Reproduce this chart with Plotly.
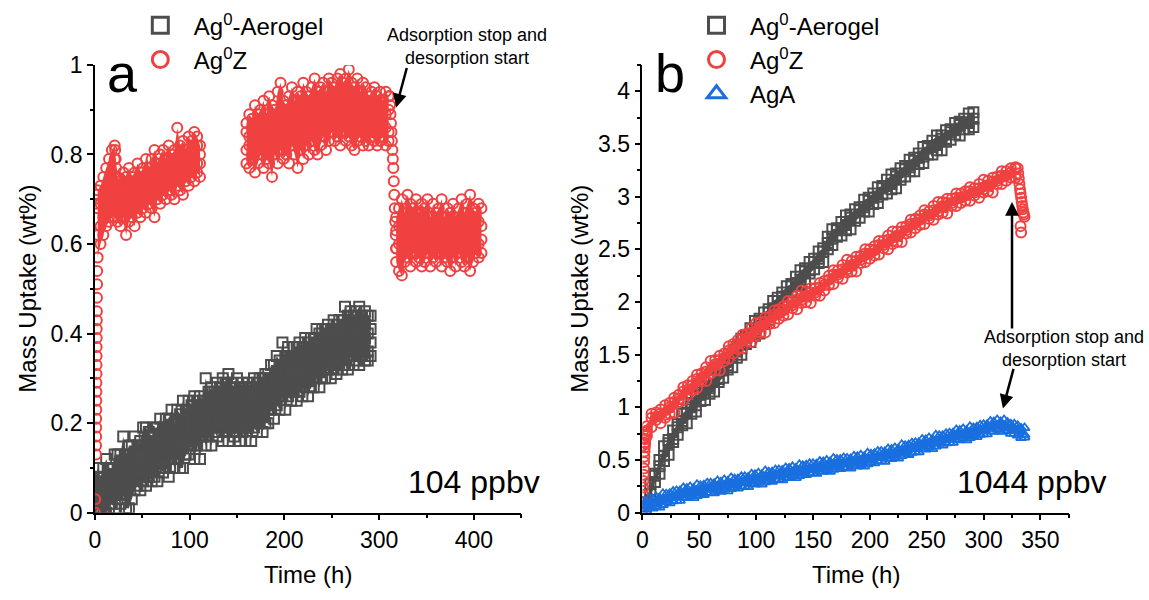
import plotly.graph_objects as go

FONT = "Liberation Sans, Arial, sans-serif"
GRAY = "#4d4d4d"
RED = "#f04141"
BLUE = "#1a6fdf"

# ---------------- Panel a: 104 ppbv ----------------
# Ag0-Aerogel, sampled every 3 h: four readings per time (upper edge, two inner, lower edge)
AERO_A_T = [0, 3, 6, 9, 12, 15, 18, 21, 24, 27, 30, 33, 36, 39, 42, 45, 48, 51, 54, 57,
            60, 63, 66, 69, 72, 75, 78, 81, 84, 87, 90, 93, 96, 99, 102, 105, 108, 111, 114, 117,
            120, 123, 126, 129, 132, 135, 138, 141, 144, 147, 150, 153, 156, 159, 162, 165, 168, 171, 174, 177,
            180, 183, 186, 189, 192, 195, 198, 201, 204, 207, 210, 213, 216, 219, 222, 225, 228, 231, 234, 237,
            240, 243, 246, 249, 252, 255, 258, 261, 264, 267, 270, 273, 276, 279, 282, 285, 288, 291]
AERO_A_HI = [.07, .10, .08, .10, .12, .10, .10, .13, .13, .13, .17, .13, .15, .15, .17, .15, .16, .19, .19, .18,
             .17, .19, .19, .21, .19, .21, .21, .23, .20, .23, .22, .25, .23, .25, .24, .26, .25, .26, .25, .30,
             .27, .28, .27, .29, .28, .30, .29, .31, .29, .28, .30, .28, .29, .28, .29, .28, .30, .29, .30, .30,
             .31, .31, .33, .33, .35, .34, .38, .35, .37, .35, .37, .37, .38, .37, .39, .38, .39, .39, .41, .40,
             .41, .41, .42, .41, .43, .42, .43, .43, .46, .44, .45, .44, .45, .46, .44, .45, .44, .44]
AERO_A_MH = [.04, .04, .06, .06, .05, .08, .07, .08, .10, .09, .10, .12, .10, .12, .13, .12, .14, .15, .13, .15,
             .16, .14, .16, .17, .16, .18, .19, .17, .18, .20, .18, .20, .21, .20, .21, .22, .21, .23, .24, .22,
             .24, .25, .24, .25, .26, .25, .26, .27, .24, .25, .26, .24, .25, .27, .24, .25, .27, .25, .26, .28,
             .26, .28, .30, .29, .31, .32, .31, .33, .34, .31, .33, .35, .33, .34, .36, .34, .36, .37, .35, .37,
             .38, .37, .38, .39, .38, .39, .40, .38, .41, .42, .40, .41, .42, .40, .41, .42, .40, .41]
AERO_A_ML = [.01, .02, .01, .02, .04, .02, .05, .04, .06, .05, .07, .09, .06, .09, .08, .10, .09, .10, .12, .10,
             .12, .11, .13, .12, .13, .15, .13, .15, .14, .16, .14, .16, .18, .16, .18, .17, .19, .18, .19, .21,
             .19, .21, .21, .22, .20, .21, .23, .21, .22, .21, .22, .20, .21, .23, .21, .22, .22, .23, .22, .23,
             .25, .23, .26, .26, .28, .27, .28, .30, .28, .30, .29, .31, .29, .30, .33, .30, .32, .32, .33, .32,
             .34, .36, .33, .35, .35, .36, .35, .36, .38, .36, .38, .37, .38, .37, .37, .39, .36, .38]
AERO_A_LO = [.00, .01, .00, .01, .00, .01, .02, .01, .03, .02, .04, .01, .01, .03, .05, .06, .05, .07, .06, .08,
             .07, .08, .07, .10, .09, .10, .08, .12, .10, .12, .10, .10, .13, .13, .15, .12, .15, .12, .17, .15,
             .17, .15, .18, .17, .19, .16, .18, .16, .19, .17, .18, .16, .18, .16, .19, .16, .19, .18, .20, .18,
             .20, .20, .23, .21, .24, .23, .26, .23, .26, .25, .27, .25, .27, .26, .29, .26, .28, .28, .30, .28,
             .30, .30, .32, .30, .32, .31, .33, .32, .33, .32, .35, .33, .34, .33, .35, .34, .34, .35]

# Ag0Z, first adsorption period
AGZ_A1_T = [3, 6, 9, 12, 15, 18, 21, 24, 27, 30, 33, 36, 39, 42, 45, 48, 51, 54, 57, 60,
            63, 66, 69, 72, 75, 78, 81, 84, 87, 90, 93, 96, 99, 102, 105, 108, 111]
AGZ_A1_HI = [.72, .73, .75, .77, .79, .81, .82, .75, .74, .76, .75, .77, .75, .76, .78, .76, .77, .79, .77, .79,
             .81, .78, .80, .81, .79, .82, .80, .81, .86, .82, .83, .81, .84, .83, .85, .84, .82]
AGZ_A1_MH = [.68, .69, .70, .72, .74, .76, .79, .71, .72, .71, .73, .72, .74, .73, .72, .75, .74, .73, .76, .75,
             .76, .77, .76, .78, .77, .77, .79, .78, .79, .80, .78, .80, .79, .81, .80, .82, .80]
AGZ_A1_ML = [.62, .64, .66, .68, .69, .71, .75, .68, .67, .69, .68, .70, .69, .70, .71, .70, .71, .72, .71, .72,
             .73, .72, .74, .73, .75, .74, .75, .76, .75, .76, .77, .76, .77, .78, .77, .78, .78]
AGZ_A1_LO = [.57, .60, .62, .64, .65, .66, .66, .65, .64, .66, .62, .65, .66, .64, .67, .66, .68, .67, .69, .68,
             .66, .70, .69, .71, .70, .72, .71, .70, .73, .72, .71, .74, .73, .75, .74, .76, .75]

# Ag0Z, second adsorption period
AGZ_A2_T = [160, 163, 166, 169, 172, 175, 178, 181, 184, 187, 190, 193, 196, 199, 202, 205, 208, 211, 214, 217,
            220, 223, 226, 229, 232, 235, 238, 241, 244, 247, 250, 253, 256, 259, 262, 265, 268, 271, 274, 277,
            280, 283, 286, 289, 292, 295, 298, 301, 304, 307, 310]
AGZ_A2_HI = [.87, .89, .88, .91, .89, .90, .92, .89, .93, .91, .90, .94, .96, .92, .91, .93, .95, .92, .94, .93,
             .96, .94, .93, .95, .97, .94, .95, .96, .94, .97, .96, .95, .97, .98, .96, .97, .99, .96, .95, .97,
             .94, .96, .95, .93, .94, .95, .93, .94, .92, .94, .93]
AGZ_A2_MH = [.85, .84, .86, .85, .87, .86, .86, .88, .87, .86, .88, .87, .89, .88, .87, .89, .88, .90, .89, .90,
             .89, .91, .90, .89, .91, .90, .92, .91, .90, .92, .91, .93, .92, .91, .93, .92, .91, .92, .90, .91,
             .90, .89, .91, .90, .89, .90, .89, .91, .90, .89, .90]
AGZ_A2_ML = [.81, .82, .80, .82, .81, .83, .82, .81, .83, .84, .82, .84, .83, .85, .84, .83, .85, .84, .86, .85,
             .86, .85, .87, .86, .85, .87, .86, .88, .87, .86, .88, .87, .89, .88, .87, .88, .87, .86, .88, .87,
             .86, .87, .85, .86, .87, .85, .86, .85, .87, .86, .85]
AGZ_A2_LO = [.78, .77, .79, .76, .78, .80, .77, .79, .78, .75, .80, .78, .81, .79, .80, .78, .82, .80, .77, .81,
             .79, .82, .80, .83, .81, .80, .82, .84, .81, .83, .85, .83, .84, .82, .85, .83, .84, .82, .81, .83,
             .84, .82, .83, .82, .84, .83, .82, .83, .84, .82, .83]

# Ag0Z, desorption period
AGZ_A3_T = [318, 321, 324, 327, 330, 333, 336, 339, 342, 345, 348, 351, 354, 357, 360, 363, 366, 369, 372, 375,
            378, 381, 384, 387, 390, 393, 396, 399, 402, 405, 408]
AGZ_A3_HI = [.66, .68, .70, .67, .71, .69, .68, .70, .67, .69, .68, .70, .66, .69, .67, .68, .70, .66, .68, .67,
             .69, .66, .68, .70, .67, .69, .71, .68, .67, .69, .68]
AGZ_A3_MH = [.63, .64, .63, .65, .64, .66, .63, .65, .64, .63, .65, .64, .66, .64, .63, .65, .64, .63, .65, .64,
             .63, .65, .64, .66, .64, .63, .65, .64, .66, .65, .64]
AGZ_A3_ML = [.59, .60, .61, .60, .59, .61, .60, .62, .59, .61, .60, .59, .61, .60, .62, .59, .60, .61, .59, .60,
             .62, .60, .59, .61, .60, .62, .60, .61, .59, .60, .61]
AGZ_A3_LO = [.56, .54, .53, .56, .57, .55, .58, .56, .57, .55, .56, .58, .55, .57, .56, .58, .55, .57, .56, .54,
             .57, .55, .58, .56, .55, .57, .54, .56, .58, .57, .58]

# Ag0Z, single readings: start-up column, spike at ~22 h and the drop at ~315 h
AGZ_A_COL_T = [0.2, 0.4, 1.2, 1.3, 1.4, 1.5, 1.5, 1.6, 1.6, 1.7, 1.7, 1.8, 1.8, 1.9, 1.9, 2.0, 2.0, 2.1, 2.2, 2.3,
               2.4, 2.5, 1.5, 2.0, 21.5, 22.0, 22.5, 23.0, 23.5, 311, 311.5, 312, 312.5, 313, 313.5, 314, 314.5,
               315, 315.5, 316, 316.5, 317, 317.5, 318]
AGZ_A_COL_V = [0.00, 0.03, 0.13, 0.15, 0.17, 0.19, 0.21, 0.23, 0.25, 0.27, 0.29, 0.31, 0.33, 0.35, 0.37, 0.39,
               0.41, 0.43, 0.45, 0.48, 0.51, 0.54, 0.69, 0.71, 0.81, 0.79, 0.77, 0.75, 0.73, 0.93, 0.91, 0.89,
               0.87, 0.85, 0.83, 0.81, 0.79, 0.77, 0.74, 0.71, 0.68, 0.65, 0.62, 0.59]

# ---------------- Panel b: 1044 ppbv ----------------
AERO_B_T = [3, 7, 11, 15, 19, 23, 27, 31, 35, 39, 43, 47, 51, 55, 59, 63, 67, 71, 75, 79,
            83, 87, 91, 95, 99, 103, 107, 111, 115, 119, 123, 127, 131, 135, 139, 143, 147, 151, 155, 159,
            163, 167, 171, 175, 179, 183, 187, 191, 195, 199, 203, 207, 211, 215, 219, 223, 227, 231, 235, 239,
            243, 247, 251, 255, 259, 263, 267, 271, 275, 279, 283, 287, 291]
AERO_B_HI = [.10, .27, .37, .50, .63, .69, .78, .84, .94, .98, 1.04, 1.11, 1.14, 1.20, 1.27, 1.29, 1.35, 1.38, 1.47, 1.51,
             1.57, 1.65, 1.68, 1.75, 1.82, 1.84, 1.90, 1.93, 2.01, 2.04, 2.09, 2.15, 2.17, 2.24, 2.30, 2.32, 2.38, 2.41, 2.48, 2.51,
             2.62, 2.69, 2.70, 2.76, 2.82, 2.83, 2.88, 2.90, 2.97, 2.99, 3.03, 3.09, 3.10, 3.16, 3.21, 3.22, 3.27, 3.29, 3.35, 3.37,
             3.41, 3.47, 3.48, 3.53, 3.58, 3.58, 3.63, 3.64, 3.70, 3.71, 3.74, 3.79, 3.80]
AERO_B_MID = [.06, .18, .35, .44, .54, .66, .70, .81, .87, .95, 1.00, 1.02, 1.12, 1.14, 1.18, 1.26, 1.27, 1.35, 1.40, 1.48,
              1.53, 1.56, 1.66, 1.69, 1.73, 1.81, 1.82, 1.90, 1.94, 2.01, 2.05, 2.06, 2.15, 2.18, 2.21, 2.29, 2.30, 2.38, 2.41, 2.48,
              2.56, 2.60, 2.68, 2.70, 2.73, 2.80, 2.80, 2.87, 2.90, 2.96, 2.99, 3.00, 3.08, 3.10, 3.12, 3.19, 3.19, 3.26, 3.28, 3.34,
              3.37, 3.38, 3.46, 3.47, 3.49, 3.55, 3.55, 3.61, 3.63, 3.68, 3.70, 3.70, 3.74]
AERO_B_LO = [.00, .12, .29, .37, .49, .55, .67, .74, .83, .85, .94, .96, 1.06, 1.07, 1.13, 1.15, 1.24, 1.28, 1.36, 1.38,
             1.47, 1.50, 1.60, 1.62, 1.68, 1.70, 1.79, 1.83, 1.90, 1.91, 1.99, 2.00, 2.09, 2.11, 2.16, 2.18, 2.27, 2.31, 2.37, 2.38,
             2.50, 2.54, 2.62, 2.63, 2.68, 2.69, 2.77, 2.80, 2.86, 2.86, 2.93, 2.94, 3.02, 3.03, 3.07, 3.08, 3.16, 3.19, 3.24, 3.24,
             3.31, 3.32, 3.40, 3.40, 3.44, 3.44, 3.52, 3.54, 3.59, 3.58, 3.64, 3.64, 3.66]

AGZ_B_T = [4, 8, 12, 16, 20, 24, 28, 32, 36, 40, 44, 48, 52, 56, 60, 64, 68, 72, 76, 80,
           84, 88, 92, 96, 100, 104, 108, 112, 116, 120, 124, 128, 132, 136, 140, 144, 148, 152, 156, 160,
           164, 168, 172, 176, 180, 184, 188, 192, 196, 200, 204, 208, 212, 216, 220, 224, 228, 232, 236, 240,
           244, 248, 252, 256, 260, 264, 268, 272, 276, 280, 284, 288, 292, 296, 300, 304, 308, 312, 316, 320,
           324, 328]
AGZ_B_HI = [.82, .94, .95, .98, 1.02, 1.04, 1.09, 1.12, 1.19, 1.21, 1.25, 1.31, 1.32, 1.38, 1.44, 1.45, 1.49, 1.51, 1.58, 1.60,
            1.64, 1.69, 1.70, 1.75, 1.80, 1.81, 1.85, 1.86, 1.92, 1.93, 1.96, 2.01, 2.01, 2.06, 2.11, 2.10, 2.13, 2.13, 2.18, 2.20,
            2.25, 2.30, 2.30, 2.35, 2.40, 2.39, 2.43, 2.44, 2.50, 2.50, 2.53, 2.58, 2.58, 2.63, 2.67, 2.67, 2.71, 2.72, 2.78, 2.79,
            2.82, 2.87, 2.86, 2.91, 2.95, 2.95, 2.98, 2.98, 3.03, 3.03, 3.05, 3.09, 3.08, 3.12, 3.16, 3.15, 3.18, 3.19, 3.24, 3.24,
            3.27, 3.28]
AGZ_B_MID = [.78, .90, .91, .94, .93, 1.00, 1.05, 1.08, 1.15, 1.17, 1.21, 1.27, 1.28, 1.34, 1.35, 1.41, 1.45, 1.47, 1.54, 1.56,
             1.60, 1.65, 1.66, 1.71, 1.71, 1.77, 1.81, 1.82, 1.88, 1.89, 1.92, 1.97, 1.97, 2.02, 2.02, 2.06, 2.09, 2.09, 2.14, 2.16,
             2.21, 2.26, 2.26, 2.31, 2.31, 2.35, 2.39, 2.40, 2.46, 2.46, 2.49, 2.54, 2.54, 2.59, 2.58, 2.63, 2.67, 2.68, 2.74, 2.75,
             2.78, 2.83, 2.82, 2.87, 2.86, 2.91, 2.94, 2.94, 2.99, 2.99, 3.01, 3.05, 3.04, 3.08, 3.07, 3.11, 3.14, 3.15, 3.20, 3.20,
             3.23, 3.27]
AGZ_B_LO = [.73, .81, .88, .85, .90, .94, .95, 1.05, 1.07, 1.12, 1.16, 1.18, 1.25, 1.25, 1.32, 1.35, 1.35, 1.44, 1.46, 1.51,
            1.55, 1.56, 1.63, 1.62, 1.68, 1.71, 1.71, 1.79, 1.80, 1.84, 1.87, 1.88, 1.94, 1.93, 1.99, 2.00, 1.99, 2.06, 2.06, 2.11,
            2.16, 2.17, 2.23, 2.22, 2.28, 2.29, 2.29, 2.37, 2.38, 2.41, 2.44, 2.45, 2.51, 2.50, 2.55, 2.57, 2.57, 2.65, 2.66, 2.70,
            2.73, 2.74, 2.79, 2.78, 2.83, 2.85, 2.84, 2.91, 2.91, 2.94, 2.96, 2.96, 3.01, 2.99, 3.04, 3.05, 3.04, 3.12, 3.12, 3.15,
            3.18, 3.18]
# start-up column and the desorption drop after ~330 h
AGZ_B_COL_T = [0.3, 0.5, 0.7, 0.9, 1.1, 1.3, 1.5, 1.7, 1.9, 2.1, 2.4, 2.7, 3.0, 1.0, 1.5, 2.0,
               330, 330.5, 331, 331.5, 332, 332.5, 333, 333.5, 334, 334.5, 335, 335.5, 336, 332.5, 333]
AGZ_B_COL_V = [0.10, 0.17, 0.24, 0.30, 0.36, 0.42, 0.48, 0.53, 0.58, 0.62, 0.66, 0.70, 0.74, 0.64, 0.70, 0.76,
               3.27, 3.22, 3.17, 3.12, 3.07, 3.03, 2.99, 2.95, 2.91, 2.88, 2.85, 2.83, 2.81, 2.72, 2.66]

AGA_B_T = [0, 3, 6, 9, 12, 15, 18, 21, 24, 27, 30, 33, 36, 39, 42, 45, 48, 51, 54, 57,
           60, 63, 66, 69, 72, 75, 78, 81, 84, 87, 90, 93, 96, 99, 102, 105, 108, 111, 114, 117,
           120, 123, 126, 129, 132, 135, 138, 141, 144, 147, 150, 153, 156, 159, 162, 165, 168, 171, 174, 177,
           180, 183, 186, 189, 192, 195, 198, 201, 204, 207, 210, 213, 216, 219, 222, 225, 228, 231, 234, 237,
           240, 243, 246, 249, 252, 255, 258, 261, 264, 267, 270, 273, 276, 279, 282, 285, 288, 291, 294, 297,
           300, 303, 306, 309, 312, 315, 318, 321, 324, 327, 330, 333, 336]
AGA_B_HI = [.105, .105, .135, .13, .15, .14, .18, .175, .18, .20, .205, .205, .235, .23, .245, .23, .265, .255, .26, .28,
            .28, .275, .30, .29, .31, .295, .33, .32, .32, .34, .34, .335, .365, .36, .375, .36, .395, .385, .385, .405,
            .405, .40, .425, .42, .435, .42, .455, .445, .45, .465, .465, .46, .485, .48, .495, .48, .515, .505, .505, .52,
            .515, .51, .535, .53, .545, .53, .565, .555, .56, .58, .58, .575, .605, .60, .615, .605, .645, .635, .64, .66,
            .665, .665, .695, .69, .71, .695, .735, .73, .73, .75, .755, .755, .785, .78, .795, .78, .815, .805, .81, .83,
            .835, .835, .865, .86, .88, .86, .88, .855, .84, .84, .825, .80, .805]
AGA_B_MID = [.06, .08, .07, .095, .095, .12, .12, .12, .145, .145, .16, .18, .17, .195, .19, .21, .205, .20, .225, .225,
             .235, .25, .235, .255, .255, .275, .27, .265, .285, .285, .295, .31, .30, .325, .32, .34, .335, .33, .35, .35,
             .36, .375, .36, .385, .38, .40, .395, .39, .415, .41, .42, .435, .42, .445, .44, .46, .455, .45, .47, .465,
             .47, .485, .47, .495, .49, .51, .505, .50, .525, .525, .535, .55, .54, .565, .56, .585, .585, .58, .605, .605,
             .62, .64, .63, .655, .655, .675, .675, .675, .695, .695, .71, .73, .72, .745, .74, .76, .755, .75, .775, .775,
             .79, .81, .80, .825, .825, .84, .82, .80, .805, .785, .78, .775, .74]
AGA_B_LO = [.015, .015, .045, .04, .06, .05, .075, .10, .09, .11, .115, .115, .145, .14, .155, .14, .16, .18, .17, .19,
            .19, .185, .21, .20, .22, .205, .225, .245, .23, .25, .25, .245, .275, .27, .285, .27, .29, .31, .295, .315,
            .315, .31, .335, .33, .345, .33, .35, .37, .36, .375, .375, .37, .395, .39, .405, .39, .41, .43, .415, .43,
            .425, .42, .445, .44, .455, .44, .46, .48, .47, .49, .49, .485, .515, .51, .525, .515, .54, .56, .55, .57,
            .575, .575, .605, .60, .62, .605, .63, .655, .64, .66, .665, .665, .695, .69, .705, .69, .71, .73, .72, .74,
            .745, .745, .775, .77, .79, .77, .775, .78, .75, .75, .735, .71, .715]

SERIES_NAMES = ["Ag<sup>0</sup>-Aerogel", "Ag<sup>0</sup>Z", "AgA"]


def interleave(t, rows):
    """Readings in time order: for every time, each of its readings."""
    for r in rows:
        assert len(r) == len(t)
    xs, ys = [], []
    for i, tv in enumerate(t):
        for r in rows:
            xs.append(tv)
            ys.append(r[i])
    return xs, ys


def band(fig, t, hi, lo, color, xa, ya):
    """Solid area covered by the densely overlapping markers."""
    fig.add_trace(go.Scatter(x=list(t) + list(t)[::-1], y=list(hi) + list(lo)[::-1],
                             mode="lines", fill="toself", fillcolor=color,
                             line=dict(width=0, color=color), hoverinfo="skip",
                             showlegend=False, xaxis=xa, yaxis=ya))


def points(fig, x, y, symbol, size, lw, color, xa, ya):
    fig.add_trace(go.Scatter(x=x, y=y, mode="markers",
                             marker=dict(symbol=symbol, size=size, color=color,
                                         line=dict(width=lw, color=color)),
                             showlegend=False, xaxis=xa, yaxis=ya))


fig = go.Figure()

# panel a
band(fig, AERO_A_T, AERO_A_HI, AERO_A_LO, GRAY, "x", "y")
x, y = interleave(AERO_A_T, [AERO_A_HI, AERO_A_MH, AERO_A_ML, AERO_A_LO])
points(fig, x, y, "square-open", 10, 2, GRAY, "x", "y")

for t, hi, mh, ml, lo in [(AGZ_A1_T, AGZ_A1_HI, AGZ_A1_MH, AGZ_A1_ML, AGZ_A1_LO),
                          (AGZ_A2_T, AGZ_A2_HI, AGZ_A2_MH, AGZ_A2_ML, AGZ_A2_LO),
                          (AGZ_A3_T, AGZ_A3_HI, AGZ_A3_MH, AGZ_A3_ML, AGZ_A3_LO)]:
    band(fig, t, hi, lo, RED, "x", "y")
    x, y = interleave(t, [hi, mh, ml, lo])
    points(fig, x, y, "circle-open", 10, 2, RED, "x", "y")
points(fig, AGZ_A_COL_T, AGZ_A_COL_V, "circle-open", 10, 2, RED, "x", "y")

# panel b
band(fig, AERO_B_T, AERO_B_HI, AERO_B_LO, GRAY, "x2", "y2")
x, y = interleave(AERO_B_T, [AERO_B_HI, AERO_B_MID, AERO_B_LO])
points(fig, x, y, "square-open", 10, 2, GRAY, "x2", "y2")

band(fig, AGZ_B_T, AGZ_B_HI, AGZ_B_LO, RED, "x2", "y2")
x, y = interleave(AGZ_B_T, [AGZ_B_HI, AGZ_B_MID, AGZ_B_LO])
points(fig, x, y, "circle-open", 10, 2, RED, "x2", "y2")
points(fig, AGZ_B_COL_T, AGZ_B_COL_V, "circle-open", 10, 2, RED, "x2", "y2")

band(fig, AGA_B_T, AGA_B_HI, AGA_B_LO, BLUE, "x2", "y2")
x, y = interleave(AGA_B_T, [AGA_B_HI, AGA_B_MID, AGA_B_LO])
points(fig, x, y, "triangle-up-open", 9, 1.8, BLUE, "x2", "y2")

# legend entries
legend_styles = [("square-open", GRAY), ("circle-open", RED), ("triangle-up-open", BLUE)]
for lg, count, xa, ya in [("legend", 2, "x", "y"), ("legend2", 3, "x2", "y2")]:
    for name, (sym, col) in zip(SERIES_NAMES[:count], legend_styles[:count]):
        fig.add_trace(go.Scatter(x=[None], y=[None], mode="markers", name=name, legend=lg,
                                 marker=dict(symbol=sym, size=16, color=col,
                                             line=dict(width=3, color=col)),
                                 xaxis=xa, yaxis=ya))

axis_common = dict(showline=True, linecolor="black", linewidth=1.5, mirror=False,
                   ticks="outside", ticklen=6, tickwidth=1.5, tickcolor="black",
                   showgrid=False, zeroline=False,
                   tickfont=dict(family=FONT, size=23, color="black"))


def minor(dt):
    return dict(dtick=dt, ticks="outside", ticklen=3.5, tickwidth=1.5,
                tickcolor="black", showgrid=False)


Y_DOM = [0.1295, 0.9095]
fig.update_layout(
    width=1149, height=600,
    margin=dict(l=0, r=0, t=0, b=0),
    paper_bgcolor="white", plot_bgcolor="white",
    font=dict(family=FONT, size=22, color="black"),
    xaxis=dict(domain=[0.0777, 0.4508], range=[0, 450], anchor="y", tick0=0, dtick=100,
               minor=minor(50), **axis_common),
    yaxis=dict(domain=Y_DOM, range=[0, 1], anchor="x", tick0=0, dtick=0.2,
               minor=minor(0.1), **axis_common),
    xaxis2=dict(domain=[0.5568, 0.9299], range=[0, 375], anchor="y2", tick0=0, dtick=50,
                minor=minor(25), **axis_common),
    yaxis2=dict(domain=Y_DOM, range=[0, 4.25], anchor="x2", tick0=0, dtick=0.5,
                minor=minor(0.25), **axis_common),
    legend=dict(x=0.1057, y=1.017, xanchor="left", yanchor="top", bgcolor="rgba(0,0,0,0)",
                font=dict(family=FONT, size=24, color="black"), itemwidth=57, tracegroupgap=0),
    legend2=dict(x=0.5923, y=1.017, xanchor="left", yanchor="top", bgcolor="rgba(0,0,0,0)",
                 font=dict(family=FONT, size=24, color="black"), itemwidth=57, tracegroupgap=0),
)

ann = []


def text(x, y, s, size, **kw):
    ann.append(dict(x=x, y=y, xref="paper", yref="paper", text=s, showarrow=False,
                    font=dict(family=FONT, size=size, color="black"), **kw))


# panel letters
text(0.0862, 0.895, "a", 54, xanchor="left", yanchor="middle")
text(0.5661, 0.895, "b", 54, xanchor="left", yanchor="middle")
# concentrations
text(0.3503, 0.1825, "104 ppbv", 32, xanchor="left", yanchor="middle")
text(0.8303, 0.1825, "1044 ppbv", 32, xanchor="left", yanchor="middle")
# axis titles
text(0.2643, 0.0222, "Time (h)", 24, xanchor="center", yanchor="middle")
text(0.7434, 0.0222, "Time (h)", 24, xanchor="center", yanchor="middle")
text(0.0191, 0.5195, "Mass Uptake (wt%)", 24, xanchor="center", yanchor="middle", textangle=-90)
text(0.5022, 0.5195, "Mass Uptake (wt%)", 24, xanchor="center", yanchor="middle", textangle=-90)
# event labels
text(0.403, 0.9425, "Adsorption stop and<br>desorption start", 18, xanchor="center", yanchor="middle")
text(0.926, 0.4158, "Adsorption stop and<br>desorption start", 18, xanchor="center", yanchor="middle")

# arrows pointing at the end of adsorption
arrow = dict(text="", showarrow=True, arrowhead=2, arrowsize=1.1, arrowwidth=2.5,
             arrowcolor="black", standoff=0, axref="pixel", ayref="pixel")
ann.append(dict(x=318, y=0.905, xref="x", yref="y", ax=11, ay=-41, **arrow))
ann.append(dict(x=325, y=2.95, xref="x2", yref="y2", ax=0, ay=128, **arrow))
ann.append(dict(x=317, y=0.99, xref="x2", yref="y2", ax=11, ay=-41, **arrow))

fig.update_layout(annotations=ann)

fig.write_html("out.html")
